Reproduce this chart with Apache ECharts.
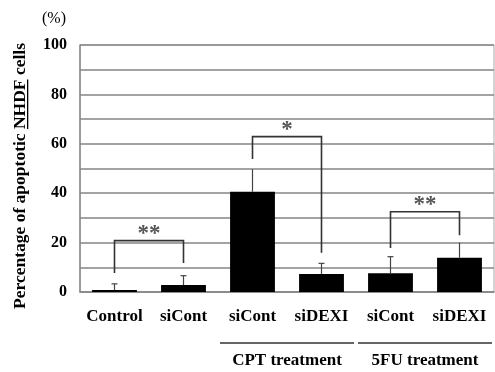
<!DOCTYPE html>
<html><head><meta charset="utf-8">
<script src="https://cdn.jsdelivr.net/npm/echarts@6/dist/echarts.min.js"></script>
<style>html,body{margin:0;padding:0;background:#fff}#c{width:495px;height:372px}</style>
</head><body><div id="c"></div>
<script>
// ---- data ----
const categories = ['Control', 'siCont', 'siCont', 'siDEXI', 'siCont', 'siDEXI'];
const values = [0.8, 2.8, 40.6, 7.3, 7.6, 13.9];
const errUpper = [3.3, 6.6, 49.7, 11.6, 14.3, 20.0];
const errCap = [true, true, false, true, true, false];
const yTicks = [0, 20, 40, 60, 80, 100];
// brackets: [leftCat, rightCat, top, leftLegEnd, rightLegEnd, marker]
const brackets = [
  [0, 1, 20.8, 7.7, 11.7, '**'],
  [2, 3, 62.9, 53.8, 15.9, '*'],
  [4, 5, 32.5, 17.8, 23.0, '**']
];
// treatment groups: [firstCat, lastCat, label]
const groups = [
  [2, 3, 'CPT treatment'],
  [4, 5, '5FU treatment']
];
const yTitlePrefix = 'Percentage of apoptotic ';
const yTitleUnder = 'NHDF';
const yTitleSuffix = ' cells';
const unitLabel = '(%)';

const SERIF = '"Liberation Serif","Times New Roman",serif';

const chart = echarts.init(document.getElementById('c'));

// measure title text for underline
const ctx = document.createElement('canvas').getContext('2d');
const titleFont = 'bold 17.5px ' + SERIF;
ctx.font = titleFont;
const fullTitle = yTitlePrefix + yTitleUnder + yTitleSuffix;
const W = ctx.measureText(fullTitle).width;
const P = ctx.measureText(yTitlePrefix).width;
const N = ctx.measureText(yTitleUnder).width;

const option = {
  animation: false,
  backgroundColor: '#fff',
  grid: { left: 80, right: 1, top: 45, bottom: 80, show: true, borderColor: '#aaa', borderWidth: 1 },
  xAxis: {
    type: 'category',
    data: categories,
    axisLine: { lineStyle: { color: '#888', width: 1.5 } },
    axisTick: { inside: true, length: 3, lineStyle: { color: '#888' } },
    axisLabel: { margin: 16, fontFamily: SERIF, fontWeight: 'bold', fontSize: 17, color: '#000', interval: 0 }
  },
  yAxis: {
    type: 'value', min: 0, max: 100, interval: 10,
    axisLine: { show: true, lineStyle: { color: '#888', width: 1.5 } },
    axisTick: { show: false },
    splitLine: { lineStyle: { color: '#858585', width: 1.5 } },
    axisLabel: {
      margin: 13, fontFamily: SERIF, fontWeight: 'bold', fontSize: 16, color: '#000',
      formatter: v => (yTicks.indexOf(v) >= 0 ? String(v) : '')
    }
  },
  graphic: [
    {
      type: 'text', left: 42, top: 11,
      style: { text: unitLabel, font: '16px ' + SERIF, fill: '#000' }
    },
    {
      type: 'group', x: 20, y: 176, rotation: Math.PI / 2,
      children: [
        { type: 'text', x: 0, y: 0,
          style: { text: fullTitle, font: titleFont, fill: '#000', align: 'center', verticalAlign: 'middle' } },
        { type: 'rect', shape: { x: -W / 2 + P, y: 7, width: N, height: 1.3 }, style: { fill: '#000' } }
      ]
    }
  ],
  series: [
    {
      type: 'bar', data: values, barWidth: '65%',
      itemStyle: { color: '#000' }, z: 3
    },
    {
      type: 'custom', z: 4,
      data: values.map((v, i) => [i, v, errUpper[i], errCap[i] ? 1 : 0]),
      renderItem: (params, api) => {
        const i = api.value(0);
        const p0 = api.coord([i, api.value(1)]);
        const p1 = api.coord([i, api.value(2)]);
        const ch = [{ type: 'line', shape: { x1: p0[0], y1: p0[1], x2: p1[0], y2: p1[1] }, style: { stroke: '#444', lineWidth: 1.2 } }];
        if (api.value(3)) ch.push({ type: 'line', shape: { x1: p1[0] - 3, y1: p1[1], x2: p1[0] + 3, y2: p1[1] }, style: { stroke: '#444', lineWidth: 1.2 } });
        return { type: 'group', children: ch };
      }
    },
    {
      type: 'custom', z: 5,
      data: brackets,
      renderItem: (params, api) => {
        const b = brackets[params.dataIndex];
        const pl = api.coord([b[0], b[2]]);
        const pr = api.coord([b[1], b[2]]);
        const ll = api.coord([b[0], b[3]]);
        const rl = api.coord([b[1], b[4]]);
        return { type: 'group', children: [
          { type: 'polyline', shape: { points: [[ll[0], ll[1]], [pl[0], pl[1]], [pr[0], pr[1]], [rl[0], rl[1]]] },
            style: { stroke: '#333', lineWidth: 1.6, fill: null } },
          { type: 'text', x: (pl[0] + pr[0]) / 2, y: pl[1] - 18,
            style: { text: b[5], font: 'bold 23px ' + SERIF, fill: '#555', align: 'center', verticalAlign: 'top' } }
        ] };
      }
    },
    {
      type: 'custom', z: 5, clip: false,
      data: groups,
      renderItem: (params, api) => {
        const g = groups[params.dataIndex];
        const bw = api.size([1, 0])[0];
        const a = api.coord([g[0], 0]);
        const b = api.coord([g[1], 0]);
        const x1 = a[0] - bw / 2 + 2, x2 = Math.min(b[0] + bw / 2 - 2, 494);
        const y = a[1] + 51;
        return { type: 'group', children: [
          { type: 'line', shape: { x1: x1, y1: y, x2: x2, y2: y }, style: { stroke: '#333', lineWidth: 1.5 } },
          { type: 'text', x: (x1 + x2) / 2, y: y + 18,
            style: { text: g[2], font: 'bold 17px ' + SERIF, fill: '#000', align: 'center', verticalAlign: 'middle' } }
        ] };
      }
    }
  ]
};
chart.setOption(option);
</script>
</body></html>
